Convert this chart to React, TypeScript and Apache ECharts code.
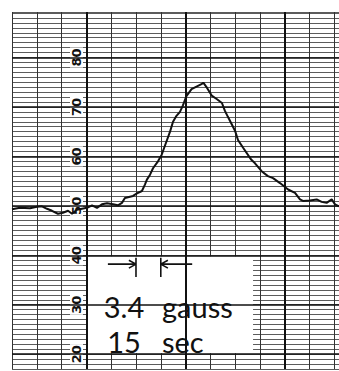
import React, { useEffect, useRef } from "react";
import * as echarts from "echarts";

// Chart-recorder trace: time in seconds (1 grid division = 15 s), reading in chart units
const timeSec = [
  0, 4.8, 10.9, 15.1, 18.1, 21.2, 24.2, 27.8, 30.8, 33.9, 36.3, 39.3, 42.3, 45.4, 48.4, 51.4,
  54.4, 57.5, 61.1, 64.1, 66.5, 68.3, 73.2, 75.6, 78.6, 80.4, 81.6, 83.5, 85.3, 88.3, 90.5,
  91.9, 95.6, 97.4, 99.5, 101.6, 103.4, 105.5, 108.6, 111.6, 114.6, 115.7, 117.9, 120.8,
  123.8, 127.0, 128.8, 130.6, 134.9, 136.7, 139.7, 144.8, 147.0, 151.0, 154.8, 157.9, 162.1,
  167.0, 171.2, 174.2, 176.0, 180.2, 184.3, 187.3, 190.3, 193.4, 195.4, 197.8,
];
const reading = [
  49.3, 49.6, 49.5, 49.8, 49.9, 49.4, 49.0, 48.4, 48.6, 49.0, 48.4, 49.2, 49.4, 49.6, 50.1,
  49.6, 50.3, 50.5, 50.3, 50.1, 50.6, 51.6, 52.0, 52.5, 53.0, 54.3, 55.3, 56.3, 57.6, 59.0,
  60.3, 61.6, 65.0, 67.0, 68.2, 69.0, 70.3, 72.2, 73.6, 74.1, 74.6, 74.9, 73.9, 72.3, 71.6,
  70.8, 69.2, 68.0, 65.2, 63.3, 61.8, 59.3, 58.6, 57.0, 56.0, 55.6, 54.6, 53.3, 52.6, 51.3,
  51.0, 51.1, 51.3, 50.8, 50.6, 51.3, 50.3, 49.9,
];

// Grid rules
const majorLevels = [20, 30, 40, 50, 60, 70, 80];
const majorTimes = [45, 105, 165];

// Annotation: the 15 s scale marker between the 75 s and 90 s grid lines
const markerFrom = 75;
const markerTo = 90;
const markerLevel = 38.2;
const markerBarLow = 35.6;
const markerBarHigh = 39.5;
const markerTail = 17;
const markerHeadLen = 4.3;
const markerHeadHalf = 0.8;

// Label box (time / level range)
const boxTimes = [45.6, 145.8];
const boxLevels = [20.2, 39.8];

const labelValues = ["3.4", "15"];
const labelUnits = ["gauss", "sec"];

const xMin = 0;
const xMax = 197.8;
const yMin = 17;
const yMax = 89.2;

export default function App() {
  const ref = useRef<HTMLDivElement>(null);

  useEffect(() => {
    if (!ref.current) return;
    const chart = echarts.init(ref.current, null, { renderer: "svg" });

    const pairs = timeSec.map((t, i) => [t, reading[i]]);

    const arrowData: any[] = [
      [markerFrom - markerTail, markerLevel], [markerFrom, markerLevel], null,
      [markerFrom - markerHeadLen, markerLevel + markerHeadHalf], [markerFrom, markerLevel],
      [markerFrom - markerHeadLen, markerLevel - markerHeadHalf], null,
      [markerFrom, markerBarLow], [markerFrom, markerBarHigh], null,
      [markerTo + markerTail + 2, markerLevel], [markerTo, markerLevel], null,
      [markerTo + markerHeadLen, markerLevel + markerHeadHalf], [markerTo, markerLevel],
      [markerTo + markerHeadLen, markerLevel - markerHeadHalf], null,
      [markerTo, markerBarLow], [markerTo, markerBarHigh],
    ];

    const font = "Lato, 'DejaVu Sans', sans-serif";

    chart.setOption({
      animation: false,
      backgroundColor: "#ffffff",
      grid: { left: 12, right: 0, top: 12, bottom: 0 },
      xAxis: {
        type: "value",
        min: xMin,
        max: xMax,
        interval: 15,
        axisLine: { show: false },
        axisTick: { show: false },
        axisLabel: { show: false },
        splitLine: { show: true, lineStyle: { color: "#333", width: 1 } },
      },
      yAxis: {
        type: "value",
        min: yMin,
        max: yMax,
        interval: 1,
        offset: -74,
        axisLine: { show: false },
        axisTick: { show: false },
        axisLabel: {
          show: true,
          rotate: 90,
          margin: 3,
          fontSize: 13,
          fontWeight: "bold",
          fontFamily: "'DejaVu Sans', sans-serif",
          color: "#111",
          backgroundColor: "#fff",
          padding: [0, 1],
          formatter: (v: number) => (Math.round(v) % 10 === 0 ? String(Math.round(v)) : ""),
        },
        splitLine: { show: true, lineStyle: { color: "#5c5c5c", width: 1 } },
      },
      series: [
        {
          type: "line",
          data: [],
          z: 1,
          silent: true,
          markLine: {
            silent: true,
            symbol: ["none", "none"],
            label: { show: false },
            lineStyle: { color: "#111", width: 1.6, type: "solid" },
            data: [
              ...majorLevels.map((v) => ({ yAxis: v })),
              ...majorTimes.map((t) => ({ xAxis: t, lineStyle: { color: "#111", width: 2, type: "solid" } })),
            ],
          },
        },
        {
          type: "line",
          data: [],
          z: 4,
          silent: true,
          markArea: {
            silent: true,
            itemStyle: { color: "#ffffff", opacity: 1 },
            data: [[{ coord: [boxTimes[0], boxLevels[1]] }, { coord: [boxTimes[1], boxLevels[0]] }]],
          },
        },
        {
          type: "line",
          data: pairs,
          z: 5,
          showSymbol: false,
          smooth: false,
          lineStyle: { color: "#111", width: 2 },
        },
        {
          type: "line",
          data: arrowData,
          z: 6,
          showSymbol: false,
          connectNulls: false,
          lineStyle: { color: "#111", width: 1.6 },
        },
      ],
      graphic: [
        {
          type: "text",
          x: 124,
          y: 324,
          z: 100,
          style: {
            text: labelValues.join("\n"),
            fontSize: 29,
            lineHeight: 35,
            fontFamily: font,
            fill: "#111",
            align: "center",
            verticalAlign: "middle",
          },
        },
        {
          type: "text",
          x: 162,
          y: 324,
          z: 100,
          style: {
            text: labelUnits.join("\n"),
            fontSize: 29,
            lineHeight: 35,
            fontFamily: font,
            fill: "#111",
            align: "left",
            verticalAlign: "middle",
          },
        },
      ],
    });

    return () => chart.dispose();
  }, []);

  return (
    <div style={{ position: "absolute", left: 0, top: 0, width: 339, height: 371, overflow: "hidden", background: "#fff" }}>
      <div ref={ref} style={{ width: 339, height: 373 }} />
    </div>
  );
}
